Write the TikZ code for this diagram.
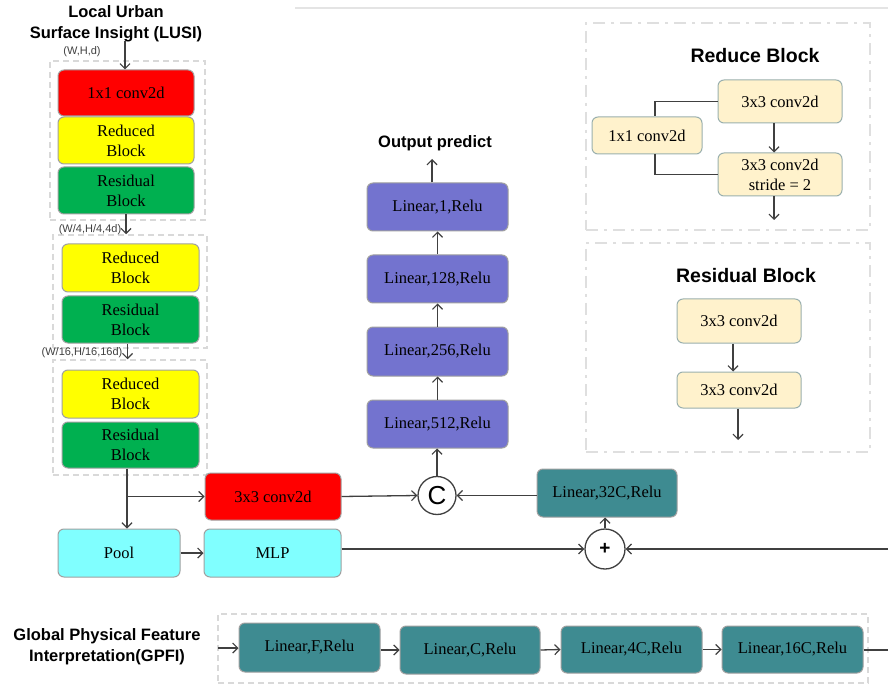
\documentclass[tikz,border=0pt]{standalone}
\usepackage{fontspec}
\setmainfont{Liberation Serif}
\newfontfamily\sansf{Liberation Sans}
\usetikzlibrary{arrows.meta,calc}
\definecolor{lc}{HTML}{404040}
\definecolor{bordc}{HTML}{A0A0A0}
\definecolor{cred}{HTML}{FF0000}
\definecolor{cyel}{HTML}{FFFF00}
\definecolor{cgrn}{HTML}{00B050}
\definecolor{ccyan}{HTML}{80FFFF}
\definecolor{cteal}{HTML}{3E8B91}
\definecolor{cpur}{HTML}{7373CF}
\definecolor{ccream}{HTML}{FFF2CC}
\definecolor{ccreamb}{HTML}{9AB0AE}
\definecolor{dashc}{HTML}{D9D9D9}
\tikzset{
  blk/.style={draw=bordc, line width=1pt, rounded corners=6pt, align=center, inner sep=2pt,
    font=\fontsize{16.5}{20}\selectfont},
  redbox/.style={blk, fill=cred},
  yelbox/.style={blk, fill=cyel},
  grnbox/.style={blk, fill=cgrn},
  cyanbox/.style={blk, fill=ccyan},
  tealbox/.style={blk, fill=cteal},
  purbox/.style={blk, fill=cpur},
  creambox/.style={blk, fill=ccream, draw=ccreamb},
  lbox/.style={draw=dashc, line width=1.5pt, dash pattern=on 6pt off 4pt, inner sep=0pt},
  ddbox/.style={draw=dashc!85, line width=2.5pt, dash pattern=on 12pt off 6pt on 3pt off 6pt, inner sep=0pt},
  arr/.style={draw=lc, line width=1.3pt, -{Straight Barb[length=5pt,width=10pt,line width=1.2pt]}},
  ln/.style={draw=lc, line width=1.3pt},
  ttl/.style={font=\sansf\bfseries\fontsize{16.5}{21}\selectfont, align=center, inner sep=0pt},
  bigttl/.style={font=\sansf\bfseries\fontsize{19.5}{22}\selectfont, inner sep=0pt},
  dimlab/.style={font=\sansf\fontsize{11}{12}\selectfont, inner sep=0pt, text=lc},
  opcirc/.style={circle, draw=lc, line width=1.3pt, fill=white, minimum size=38pt, inner sep=0pt}
}
\begin{document}
\begin{tikzpicture}[x=1pt,y=-1pt]
\useasboundingbox (0,0) rectangle (888,684);
\fill[white] (0,0) rectangle (888,684);
% faint top line
\draw[draw=dashc!70, line width=1.5pt] (295,8) -- (888,8);

% ---------- LUSI ----------
\node[ttl] (lusit) at (116,23.5) {Local Urban\\Surface Insight (LUSI)};
\node[dimlab] (dim1) at (82,52) {(W,H,d)};
\node[lbox, minimum width=155pt, minimum height=159pt] (dA) at (127.5,140.5) {};
\node[lbox, minimum width=154pt, minimum height=113pt] (dB) at (130,291.5) {};
\node[lbox, minimum width=154pt, minimum height=115pt] (dC) at (130,417.5) {};

\node[redbox, minimum width=136pt, minimum height=46pt] (conv1) at (126,93) {1x1 conv2d};
\node[yelbox, minimum width=136pt, minimum height=47pt] (redA) at (126,140.5) {Reduced\\Block};
\node[grnbox, minimum width=136pt, minimum height=47pt] (resA) at (126,190.5) {Residual\\Block};
\node[yelbox, minimum width=137pt, minimum height=48pt] (redB) at (130.5,268) {Reduced\\Block};
\node[grnbox, minimum width=137pt, minimum height=47pt] (resB) at (130.5,319.5) {Residual\\Block};
\node[yelbox, minimum width=137pt, minimum height=48pt] (redC) at (130.5,394) {Reduced\\Block};
\node[grnbox, minimum width=137pt, minimum height=46pt] (resC) at (130.5,445) {Residual\\Block};

\coordinate (inA) at (125,41);
\draw[arr] (inA) -- (inA |- conv1.north);
\node[dimlab] (dim2) at (90,230) {(W/4,H/4,4d)};
\draw[arr] (resA.south) -- (resA.south |- dB.north);
\node[dimlab] (dim3) at (82,353) {(W/16,H/16,16d)};
\draw[arr] ([xshift=-3pt]resB.south) -- ([xshift=-3pt]resB.south |- dC.north);

% ---------- middle row ----------
\node[redbox, minimum width=136pt, minimum height=47pt] (conv3) at (273,496.5) {3x3 conv2d};
\node[cyanbox, minimum width=122pt, minimum height=48pt] (pool) at (119,553) {Pool};
\node[cyanbox, minimum width=137pt, minimum height=48pt] (mlp) at (272.5,553) {MLP};
\node[opcirc, font=\sansf\fontsize{26}{26}\selectfont] (cat) at (437,495.5) {C};
\node[opcirc, minimum size=40pt, font=\sansf\bfseries\fontsize{19}{19}\selectfont] (plus) at (605,549) {+};
\node[tealbox, minimum width=140pt, minimum height=48pt] (lin32) at (607,493) {Linear,32C,Relu};

\coordinate (brk) at (127,496.5);
\draw[ln] ([xshift=-3.5pt]resC.south) -- (brk);
\draw[arr] (brk) -- (brk |- pool.north);
\draw[arr] (brk) -- (conv3.west);
\draw[arr] (conv3.east) -- (cat.west);
\draw[arr] (lin32.west |- cat.east) -- (cat.east);
\draw[arr] (pool.east) -- (mlp.west);
\draw[arr] (mlp.east |- plus.west) -- (plus.west);
\draw[arr] (plus.north) -- (plus.north |- lin32.south);
\coordinate (rin) at (888,549);
\draw[arr] (rin) -- (plus.east);

% ---------- output column ----------
\node[purbox, minimum width=141pt, minimum height=48pt] (l512) at (437.5,424) {Linear,512,Relu};
\node[purbox, minimum width=141pt, minimum height=49pt] (l256) at (437.5,351.5) {Linear,256,Relu};
\node[purbox, minimum width=141pt, minimum height=48pt] (l128) at (437.5,279) {Linear,128,Relu};
\node[purbox, minimum width=141pt, minimum height=48pt] (l1) at (437.5,207) {Linear,1,Relu};
\node[ttl] (outp) at (435,143) {Output predict};
\draw[arr] (cat.north) -- (cat.north |- l512.south);
\draw[arr] (l512.north) -- (l256.south);
\draw[arr] (l256.north) -- (l128.south);
\draw[arr] (l128.north) -- (l1.south);
\coordinate (otip) at (432,159);
\draw[arr] (otip |- l1.north) -- (otip);

% ---------- GPFI ----------
\node[ttl, font=\sansf\bfseries\fontsize{16.5}{21}\selectfont] (gpfit) at (107,646.5) {Global Physical Feature\\Interpretation(GPFI)};
\node[lbox, minimum width=650pt, minimum height=69pt] (dG) at (543,648.5) {};
\node[tealbox, minimum width=141pt, minimum height=49pt] (lF) at (309.5,647.5) {Linear,F,Relu};
\node[tealbox, minimum width=140pt, minimum height=48pt] (lC) at (470,650) {Linear,C,Relu};
\node[tealbox, minimum width=141pt, minimum height=47pt] (l4C) at (631.5,649.5) {Linear,4C,Relu};
\node[tealbox, minimum width=141pt, minimum height=47pt] (l16C) at (792.5,649.5) {Linear,16C,Relu};
\coordinate (gin) at (218,648);
\draw[arr] (gin) -- (lF.west |- gin);
\draw[arr] (lF.east |- lC.west) -- (lC.west);
\draw[arr] (lC.east) -- (l4C.west);
\draw[arr] (l4C.east) -- (l16C.west);
\coordinate (gout) at (888,650);
\draw[ln] (l16C.east |- gout) -- (gout);

% ---------- Reduce Block ----------
\node[ddbox, minimum width=284pt, minimum height=207pt] (dR) at (728,126.5) {};
\node[bigttl] (rtitle) at (755,56) {Reduce Block};
\node[creambox, minimum width=124pt, minimum height=43pt] (r3a) at (780,101.5) {3x3 conv2d};
\node[creambox, minimum width=110pt, minimum height=37pt] (r1) at (647,135.5) {1x1 conv2d};
\node[creambox, minimum width=124pt, minimum height=43pt] (r3b) at (780,174.5) {3x3 conv2d\\stride = 2};
\draw[arr] ([xshift=-6pt]r3a.south) -- ([xshift=-6pt]r3b.north);
\coordinate (rout) at (774,220);
\draw[arr] (rout |- r3b.south) -- (rout);
\draw[ln] (r3a.west) -| ([xshift=8pt]r1.north);
\draw[ln] ([xshift=8pt]r1.south) |- (r3b.west);

% ---------- Residual Block ----------
\node[ddbox, minimum width=284pt, minimum height=209pt] (dS) at (728,347.5) {};
\node[bigttl] (stitle) at (746,276) {Residual Block};
\node[creambox, minimum width=124pt, minimum height=44pt] (s1) at (739,321) {3x3 conv2d};
\node[creambox, minimum width=124pt, minimum height=36pt] (s2) at (739,390) {3x3 conv2d};
\draw[arr] ([xshift=-6pt]s1.south) -- ([xshift=-6pt]s2.north);
\coordinate (sout) at (738,440);
\draw[arr] (sout |- s2.south) -- (sout);
\end{tikzpicture}
\end{document}
